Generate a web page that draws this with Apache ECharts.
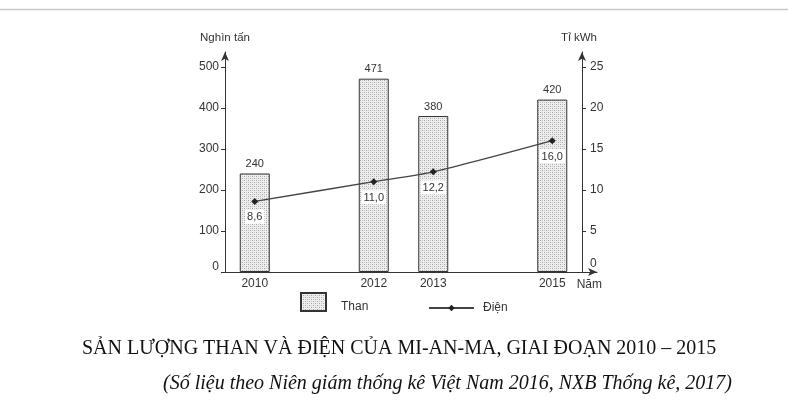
<!DOCTYPE html>
<html>
<head>
<meta charset="utf-8">
<script src="https://cdn.jsdelivr.net/npm/echarts@6/dist/echarts.min.js"></script>
<style>html,body{margin:0;padding:0;background:#fff;}#c{width:788px;height:402px;}</style>
</head>
<body>
<div id="c"></div>
<script>
var years = [2010, 2012, 2013, 2015];
var than = [240, 471, 380, 420];
var dien = [8.6, 11.0, 12.2, 16.0];
var leftTicks = [0, 100, 200, 300, 400, 500];
var rightTicks = [0, 5, 10, 15, 20, 25];

var pc = document.createElement('canvas');
pc.width = 4; pc.height = 4;
var g = pc.getContext('2d');
g.fillStyle = '#eeeeee'; g.fillRect(0, 0, 4, 4);
g.fillStyle = '#a4a4a4';
g.fillRect(0, 0, 1, 1); g.fillRect(2, 2, 1, 1);
g.fillStyle = '#cacaca';
g.fillRect(2, 0, 1, 1); g.fillRect(0, 2, 1, 1);

var chart = echarts.init(document.getElementById('c'), null, {renderer: 'canvas'});
var txt = '#333';
var serif = 'Liberation Serif, Times New Roman, serif';
option = {
  animation: false,
  backgroundColor: '#fff',
  textStyle: {fontFamily: 'Liberation Sans, Arial, sans-serif'},
  graphic: [{type: 'line', shape: {x1: 0, y1: 9.5, x2: 788, y2: 9.5}, style: {stroke: '#c8c8c8', lineWidth: 1.5}}],
  title: [
    {text: 'SẢN LƯỢNG THAN VÀ ĐIỆN CỦA MI-AN-MA, GIAI ĐOẠN 2010 – 2015', left: 82, top: 339, padding: 0,
     textStyle: {fontFamily: serif, fontSize: 20, fontWeight: 'normal', color: '#111'}},
    {text: '(Số liệu theo Niên giám thống kê Việt Nam 2016, NXB Thống kê, 2017)', right: 56, top: 374, padding: 0,
     textStyle: {fontFamily: serif, fontSize: 20, fontStyle: 'italic', fontWeight: 'normal', color: '#111'}}
  ],
  legend: [
    {data: [{name: 'Than', icon: 'rect'}], left: 300, top: 292, padding: 0, itemWidth: 25, itemHeight: 18,
     formatter: '{a|{name}}',
     textStyle: {fontSize: 12, color: txt, rich: {a: {fontSize: 12, color: txt, padding: [9, 0, 0, 10]}}}},
    {data: ['Điện'], left: 428, top: 302, padding: 0, itemWidth: 45, itemHeight: 8,
     textStyle: {fontSize: 12, color: txt, padding: [0, 0, 0, 4]}}
  ],
  grid: {left: 225, right: 191, top: 52, bottom: 130},
  xAxis: {
    type: 'value', min: 2009.5, max: 2015.752,
    name: 'Năm', nameLocation: 'end', nameGap: 5,
    nameTextStyle: {fontSize: 12, color: txt, align: 'right', verticalAlign: 'top', padding: [7, 0, 0, 0]},
    axisLine: {show: true, lineStyle: {color: '#333', width: 1}, symbol: ['none', 'arrow'], symbolSize: [6, 9]},
    axisTick: {show: false},
    splitLine: {show: false},
    axisLabel: {customValues: years, fontSize: 12, color: txt, margin: 6, formatter: function (v) { return String(v); }}
  },
  yAxis: [
    {type: 'value', min: 0, max: 536, position: 'left',
     name: 'Nghìn tấn', nameLocation: 'end', nameGap: 8,
     nameTextStyle: {fontSize: 11.5, color: txt, align: 'center'},
     axisLine: {show: true, lineStyle: {color: '#333', width: 1}, symbol: ['none', 'arrow'], symbolSize: [6, 9]},
     axisTick: {show: true, length: 4, customValues: leftTicks, lineStyle: {color: '#333'}},
     axisLabel: {customValues: leftTicks, fontSize: 12, color: txt, margin: 6,
                 formatter: function (v) { return v === 0 ? '{z|0}' : String(v); },
                 rich: {z: {fontSize: 12, color: txt, padding: [0, 0, 11, 0]}}},
     splitLine: {show: false}},
    {type: 'value', min: 0, max: 26.8, position: 'right', offset: -15,
     name: 'Tỉ kWh', nameLocation: 'end', nameGap: 8,
     nameTextStyle: {fontSize: 11.5, color: txt, align: 'center', padding: [0, 6, 0, 0]},
     axisLine: {show: true, lineStyle: {color: '#333', width: 1}, symbol: ['none', 'arrow'], symbolSize: [6, 9]},
     axisTick: {show: true, length: 4, customValues: rightTicks, lineStyle: {color: '#333'}},
     axisLabel: {customValues: rightTicks, fontSize: 12, color: txt, margin: 8,
                 formatter: function (v) { return v === 0 ? '{z|0}' : String(v); },
                 rich: {z: {fontSize: 12, color: txt, padding: [0, 0, 16, 0]}}},
     splitLine: {show: false}}
  ],
  series: [
    {name: 'Than', type: 'bar', yAxisIndex: 0, barWidth: 30,
     data: years.map(function (y, i) { return [y, than[i]]; }),
     itemStyle: {color: {image: pc, repeat: 'repeat'}, borderColor: '#333', borderWidth: 1},
     label: {show: true, position: 'top', distance: 4, fontSize: 11, color: txt,
             formatter: function (p) { return String(p.value[1]); }}},
    {name: 'Điện', type: 'line', yAxisIndex: 1, smooth: 0.25,
     data: years.map(function (y, i) { return [y, dien[i]]; }),
     lineStyle: {color: '#444', width: 1.3},
     itemStyle: {color: '#222'},
     symbol: 'diamond', symbolSize: 7,
     label: {show: true, position: 'bottom', distance: 5, fontSize: 11, color: txt,
             backgroundColor: '#fff', padding: [2, 2, 1, 2],
             formatter: function (p) { return p.value[1].toFixed(1).replace('.', ','); }},
     z: 3}
  ]
};
chart.setOption(option);
</script>
</body>
</html>
